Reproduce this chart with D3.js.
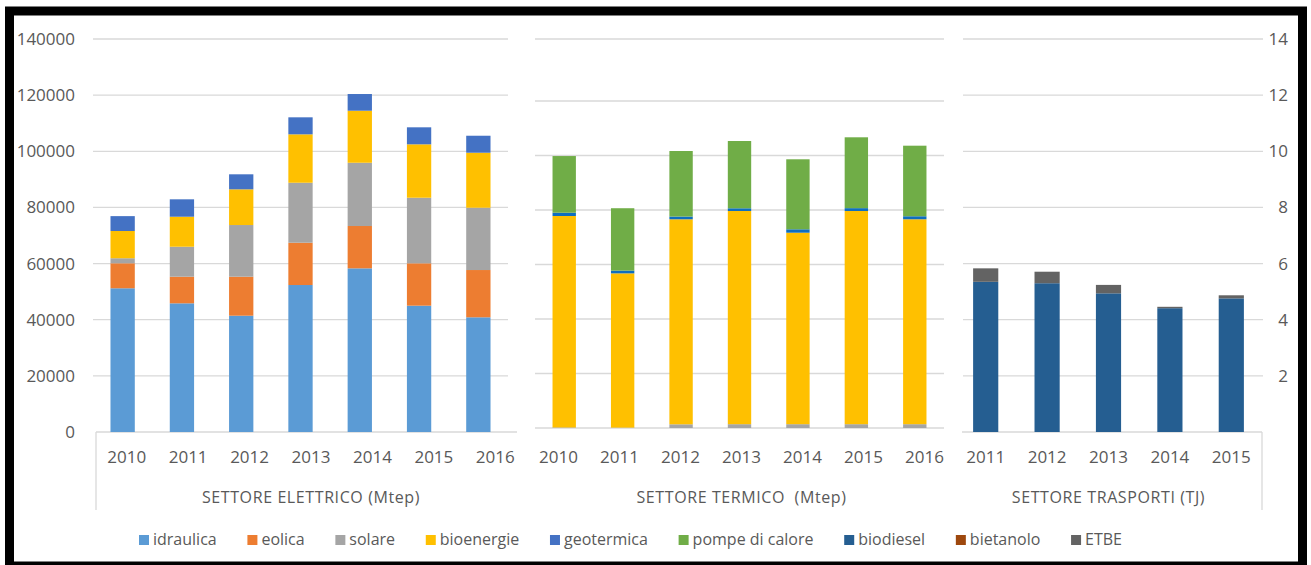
<!DOCTYPE html>
<html>
<head>
<meta charset="utf-8">
<script src="https://cdnjs.cloudflare.com/ajax/libs/d3/7.8.5/d3.min.js"></script>
<style>
body { margin: 0; background: #fff; }
text { font-family: "Open Sans", sans-serif; fill: #595959; }
</style>
</head>
<body>
<svg width="1311" height="565"></svg>
<script>
// ---- data ----
const years = ["2010", "2011", "2012", "2013", "2014", "2015", "2016"];
const yearsTr = ["2011", "2012", "2013", "2014", "2015"];

// settore elettrico
const idraulica = [51200, 45840, 41430, 52360, 58300, 45000, 40860];
const eolica = [8900, 9480, 13890, 15070, 15080, 15090, 16840];
const solareEl = [1800, 10680, 18410, 21370, 22540, 23370, 22200];
const bioEl = [9700, 10690, 12720, 17240, 18530, 19020, 19590];
const geoEl = [5300, 6200, 5350, 6060, 5950, 6060, 6050];

// settore termico
const solareTh = [20, 15, 136, 140, 140, 140, 140];
const bioTh = [7760, 5660, 7523, 7823, 7027, 7823, 7520];
const geoTh = [120, 100, 100, 100, 125, 105, 110];
const pompe = [2080, 2290, 2406, 2469, 2569, 2600, 2590];

// settore trasporti
const biodiesel = [5.35, 5.30, 4.94, 4.41, 4.76];
const bietanolo = [0, 0, 0, 0, 0];
const etbe = [0.48, 0.41, 0.30, 0.05, 0.11];

const leftTicks = [0, 20000, 40000, 60000, 80000, 100000, 120000, 140000];
const midTicks = [0, 2000, 4000, 6000, 8000, 10000, 12000];
const rightTicks = [2, 4, 6, 8, 10, 12, 14];

const legendNames = ["idraulica", "eolica", "solare", "bioenergie", "geotermica",
    "pompe di calore", "biodiesel", "bietanolo", "ETBE"];
const legendColors = ["#5B9BD5", "#ED7D31", "#A5A5A5", "#FFC000", "#4472C4",
    "#70AD47", "#255E91", "#9E480E", "#636363"];
const groupLabels = ["SETTORE ELETTRICO (Mtep)", "SETTORE TERMICO  (Mtep)", "SETTORE TRASPORTI (TJ)"];

let svg = d3.select("svg");
const grid = "#D9D9D9";

// scales
let yLeft = d3.scaleLinear().domain([0, 140000]).range([432, 39]);
let yMid = d3.scaleLinear().domain([0, 12000]).range([428, 101]);
let yRight = d3.scaleLinear().domain([0, 14]).range([432, 39]);

let xEl = d3.scaleBand().domain(years).range([93, 508]).paddingInner(0.59).paddingOuter(0.295);
let xTh = d3.scaleBand().domain(years).range([535, 944]).paddingInner(0.6).paddingOuter(0.3);
let xTr = d3.scaleBand().domain(yearsTr).range([955, 1262]).paddingInner(0.59).paddingOuter(0.295);

// label positions do not line up exactly with the bars in the original
let lbEl = d3.scaleBand().domain(years).range([96, 526]);
let lbTh = d3.scaleBand().domain(years).range([528, 955]);
let lbTr = d3.scaleBand().domain(yearsTr).range([955, 1262]);

// gridlines
const gridLines = (ticks, y, x1, x2) => {
    svg.append("g").selectAll("line")
        .data(ticks)
        .join("line")
        .attr("x1", x1).attr("x2", x2)
        .attr("y1", d => y(d)).attr("y2", d => y(d))
        .attr("stroke", grid)
        .attr("stroke-width", 1.3);
};
gridLines(leftTicks.slice(1), yLeft, 93, 508);
gridLines(midTicks, yMid, 535, 944);
gridLines([140000], yLeft, 535, 944);
gridLines(rightTicks, yRight, 963, 1263);

// category axis frame lines
svg.append("line").attr("x1", 96).attr("x2", 517).attr("y1", yLeft(0)).attr("y2", yLeft(0)).attr("stroke", grid).attr("stroke-width", 1.3);
svg.append("line").attr("x1", 96).attr("x2", 96).attr("y1", yLeft(0)).attr("y2", 510).attr("stroke", grid).attr("stroke-width", 1.3);
svg.append("line").attr("x1", 962).attr("x2", 1262).attr("y1", yRight(0)).attr("y2", yRight(0)).attr("stroke", grid).attr("stroke-width", 1.3);
svg.append("line").attr("x1", 1262).attr("x2", 1262).attr("y1", yRight(0)).attr("y2", 510).attr("stroke", grid).attr("stroke-width", 1.3);

// stacked bars
const drawStack = (cats, series, x, y) => {
    let rows = cats.map((c, i) => {
        let r = {cat: c};
        series.forEach(s => r[s.name] = s.values[i]);
        return r;
    });
    let stack = d3.stack().keys(series.map(s => s.name))(rows);
    svg.append("g").selectAll("g")
        .data(stack)
        .join("g")
        .attr("fill", (d, i) => series[i].color)
        .selectAll("rect")
        .data(d => d)
        .join("rect")
        .attr("x", d => x(d.data.cat))
        .attr("width", x.bandwidth())
        .attr("y", d => y(d[1]))
        .attr("height", d => y(d[0]) - y(d[1]));
};

drawStack(years, [
    {name: "idraulica", values: idraulica, color: "#5B9BD5"},
    {name: "eolica", values: eolica, color: "#ED7D31"},
    {name: "solare", values: solareEl, color: "#A5A5A5"},
    {name: "bioenergie", values: bioEl, color: "#FFC000"},
    {name: "geotermica", values: geoEl, color: "#4472C4"}
], xEl, yLeft);

drawStack(years, [
    {name: "solare", values: solareTh, color: "#A5A5A5"},
    {name: "bioenergie", values: bioTh, color: "#FFC000"},
    {name: "geotermica", values: geoTh, color: "#0E6EBF"},
    {name: "pompe", values: pompe, color: "#70AD47"}
], xTh, yMid);

drawStack(yearsTr, [
    {name: "biodiesel", values: biodiesel, color: "#255E91"},
    {name: "bietanolo", values: bietanolo, color: "#9E480E"},
    {name: "etbe", values: etbe, color: "#636363"}
], xTr, yRight);

// y axes
svg.append("g")
    .attr("transform", "translate(78,0)")
    .call(d3.axisLeft(yLeft).tickValues(leftTicks).tickSize(0).tickPadding(3).tickFormat(d3.format("d")))
    .call(g => g.select(".domain").remove())
    .selectAll("text")
    .attr("font-size", "17px")
    .attr("font-family", "Open Sans")
    .attr("fill", "#595959");

svg.append("g")
    .attr("transform", "translate(1263,0)")
    .call(d3.axisRight(yRight).tickValues(rightTicks).tickSize(0))
    .call(g => g.select(".domain").remove())
    .selectAll("text")
    .attr("x", 25)
    .attr("text-anchor", "end")
    .attr("font-size", "17px")
    .attr("font-family", "Open Sans")
    .attr("fill", "#595959");

// category axes
[lbEl, lbTh, lbTr].forEach(sc => {
    svg.append("g")
        .attr("transform", "translate(0,432)")
        .call(d3.axisBottom(sc).tickSize(0).tickPadding(19))
        .call(g => g.select(".domain").remove())
        .selectAll("text")
        .attr("font-size", "17px")
        .attr("font-family", "Open Sans")
        .attr("fill", "#595959");
});

// group labels
svg.append("g").selectAll("text")
    .data([lbEl, lbTh, lbTr])
    .join("text")
    .attr("x", d => (d.range()[0] + d.range()[1]) / 2)
    .attr("y", 503)
    .attr("text-anchor", "middle")
    .attr("font-size", "16px")
    .attr("letter-spacing", "0.6px")
    .attr("xml:space", "preserve")
    .style("white-space", "pre")
    .text((d, i) => groupLabels[i]);

// legend
let legend = svg.append("g");
let items = legend.selectAll("g")
    .data(legendNames)
    .join("g");
items.append("rect")
    .attr("width", 10).attr("height", 10)
    .attr("y", 535)
    .attr("fill", (d, i) => legendColors[i]);
items.append("text")
    .attr("x", 14)
    .attr("y", 545)
    .attr("font-size", "16px")
    .text(d => d);
let widths = [];
items.each(function() {
    widths.push(14 + d3.select(this).select("text").node().getComputedTextLength());
});
const legStart = 139, legEnd = 1122;
let gap = (legEnd - legStart - d3.sum(widths)) / (widths.length - 1);
let cx = legStart;
items.attr("transform", (d, i) => {
    let t = "translate(" + cx + ",0)";
    cx += widths[i] + gap;
    return t;
});

// black frame of the screenshot
svg.append("rect")
    .attr("x", 9.5).attr("y", 11)
    .attr("width", 1293).attr("height", 555)
    .attr("fill", "none")
    .attr("stroke", "#000")
    .attr("stroke-width", 9);
</script>
</body>
</html>
